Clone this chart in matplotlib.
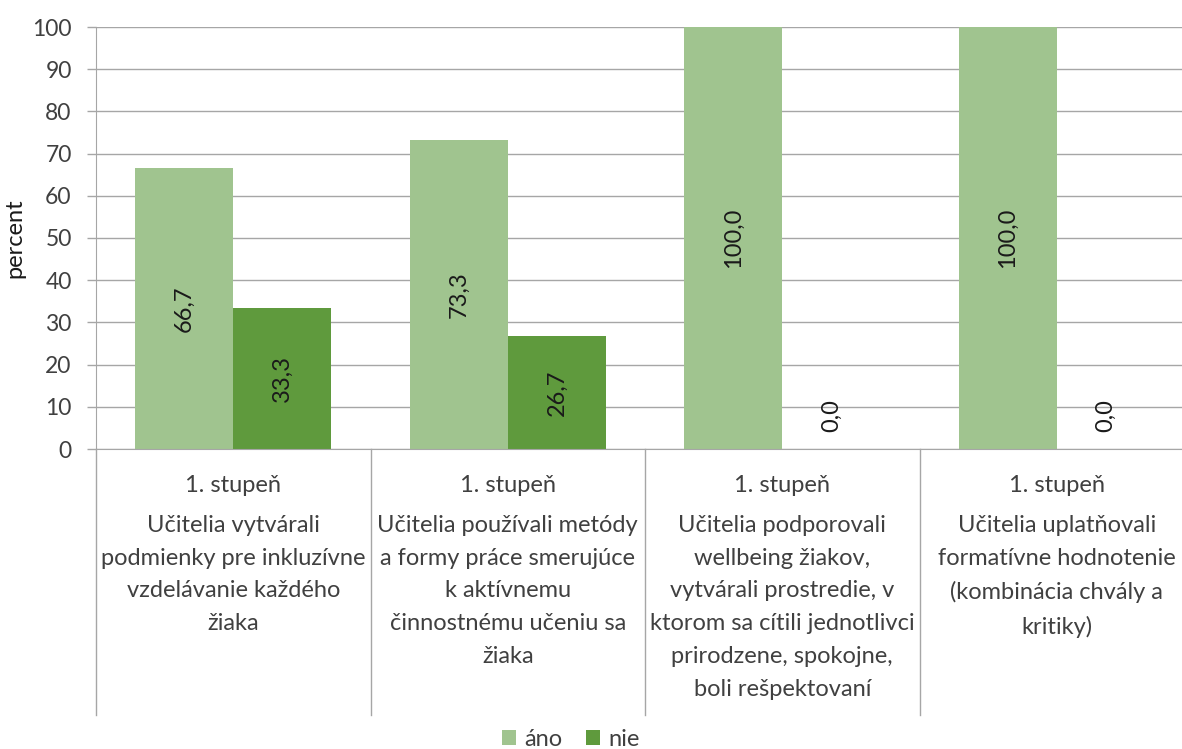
import matplotlib
matplotlib.use("Agg")
import matplotlib.pyplot as plt
import matplotlib.transforms as mtransforms
import numpy as np

plt.rcParams['font.family'] = ['Lato', 'DejaVu Sans']

levels = ["1. stupeň", "1. stupeň", "1. stupeň", "1. stupeň"]
categories = [
    "Učitelia vytvárali\npodmienky pre inkluzívne\nvzdelávanie každého\nžiaka",
    "Učitelia používali metódy\na formy práce smerujúce\nk aktívnemu\nčinnostnému učeniu sa\nžiaka",
    "Učitelia podporovali\nwellbeing žiakov,\nvytvárali prostredie, v\nktorom sa cítili jednotlivci\nprirodzene, spokojne,\nboli rešpektovaní",
    "Učitelia uplatňovali\nformatívne hodnotenie\n(kombinácia chvály a\nkritiky)",
]
ano = [66.7, 73.3, 100.0, 100.0]
nie = [33.3, 26.7, 0.0, 0.0]
series_names = ["áno", "nie"]
yticks = list(range(0, 101, 10))

c_ano = "#A0C48F"
c_nie = "#5F9A3D"
txt = "#404040"
grid_c = "#A6A6A6"

fig = plt.figure(figsize=(11.82, 7.49), dpi=100)
ax = fig.add_axes([96/1182, (749-449)/749, 1098/1182, 422/749])

x = np.arange(len(categories))
w = 0.357
b1 = ax.bar(x - w/2, ano, w, color=c_ano, label=series_names[0], zorder=2)
b2 = ax.bar(x + w/2, nie, w, color=c_nie, label=series_names[1], zorder=2)

for bars in (b1, b2):
    for r in bars:
        h = r.get_height()
        lab = f"{h:.1f}".replace(".", ",")
        cx = r.get_x() + r.get_width()/2
        if h > 0:
            ax.text(cx, h/2, lab, rotation=90, ha='center', va='center',
                    fontsize=17, color='#1a1a1a', zorder=3)
        else:
            ax.annotate(lab, (cx, 0), xytext=(0, 12), textcoords='offset points',
                        rotation=90, ha='center', va='bottom',
                        fontsize=17, color='#1a1a1a', zorder=3)

ax.set_xlim(-0.5, len(categories) - 0.5)
ax.set_ylim(0, 100)
ax.set_yticks(yticks)
ax.tick_params(axis='y', labelsize=16.5, colors=txt, length=6.5, width=1, color=grid_c, pad=11)
ax.tick_params(axis='y', labelcolor=txt)
ax.set_xticks([])
ax.yaxis.grid(True, color=grid_c, linewidth=1, zorder=0)
ax.set_axisbelow(True)
for s in ['top', 'right']:
    ax.spines[s].set_visible(False)
ax.spines['left'].set_color(grid_c)
ax.spines['bottom'].set_color(grid_c)
ax.set_ylabel("percent", fontsize=17, color='#1a1a1a', labelpad=5)

trans = mtransforms.blended_transform_factory(ax.transData, ax.transAxes)
ybot = (449 - 715) / 422
for i in range(len(categories) + 1):
    ax.plot([i - 0.5, i - 0.5], [0, ybot], color=grid_c, linewidth=1,
            transform=trans, clip_on=False)

for i, (lv, cat) in enumerate(zip(levels, categories)):
    ax.text(i, (449 - 486) / 422, lv, transform=trans, ha='center', va='center',
            fontsize=17, color=txt)
    ax.text(i, (449 - 515) / 422, cat, transform=trans, ha='center', va='top',
            fontsize=17, color=txt, linespacing=1.69, multialignment='center')

fig.legend(handles=[b1, b2], loc='center', bbox_to_anchor=(571/1182, 1 - 739/749),
           ncol=2, frameon=False, handlelength=0.6, handleheight=0.6,
           handletextpad=0.35, columnspacing=1.0, labelcolor=txt,
           prop={'size': 17})

fig.savefig("out.png", dpi=100)
